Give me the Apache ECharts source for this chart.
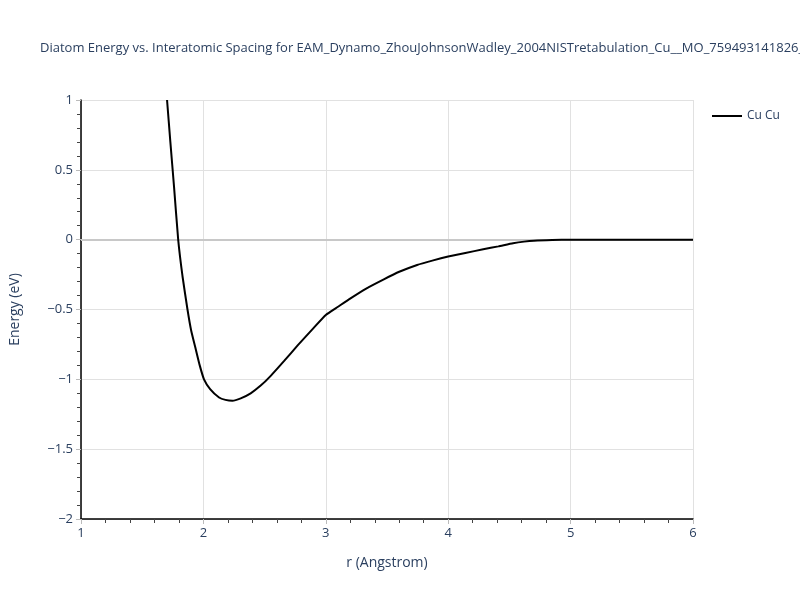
<!DOCTYPE html>
<html>
<head>
<meta charset="utf-8">
<script src="https://cdn.jsdelivr.net/npm/echarts@6/dist/echarts.min.js"></script>
<style>html,body{margin:0;padding:0;background:#fff;}#c{width:800px;height:600px;}</style>
</head>
<body>
<div id="c"></div>
<script>
const seriesName = 'Cu Cu';
const rValues = [1.703, 1.73, 1.76, 1.794, 1.829, 1.870, 1.90, 1.938, 1.97, 2.005, 2.055, 2.128, 2.18, 2.237, 2.305, 2.386, 2.468, 2.55, 2.658, 2.77, 2.89, 3.0, 3.1, 3.202, 3.33, 3.474, 3.6, 3.746, 3.87, 4.0, 4.14, 4.286, 4.41, 4.53, 4.62, 4.70, 4.85, 5.0, 5.5, 6.0];
const energyValues = [1.0, 0.7, 0.38, 0.0, -0.26, -0.5, -0.65, -0.786, -0.9, -1.0, -1.07, -1.13, -1.147, -1.153, -1.136, -1.1, -1.045, -0.975, -0.87, -0.757, -0.642, -0.539, -0.48, -0.42, -0.35, -0.284, -0.23, -0.181, -0.15, -0.121, -0.095, -0.069, -0.048, -0.026, -0.014, -0.007, -0.002, 0, 0, 0];
const xTicks = [1, 2, 3, 4, 5, 6];
const yTicks = [-2, -1.5, -1, -0.5, 0, 0.5, 1];
const titleText = 'Diatom Energy vs. Interatomic Spacing for EAM_Dynamo_ZhouJohnsonWadley_2004NISTretabulation_Cu__MO_759493141826_000';

const fontColor = '#2a3f5f';
const fam = '"Open Sans", Verdana, Arial, sans-serif';
const fmt = v => String(v).replace('-', '\u2212');

const chart = echarts.init(document.getElementById('c'));
chart.setOption({
  animation: false,
  backgroundColor: '#fff',
  title: {
    text: titleText,
    left: 35, top: 37,
    textStyle: {fontFamily: fam, fontSize: 13, fontWeight: 'normal', color: fontColor}
  },
  legend: {
    left: 707, top: 105, orient: 'vertical',
    itemWidth: 30, itemHeight: 10, itemGap: 8,
    textStyle: {fontFamily: fam, fontSize: 12, color: fontColor},
    data: [{name: seriesName, icon: 'path://M0,4 L30,4 L30,6 L0,6 Z'}]
  },
  grid: {left: 80, right: 107, top: 100, bottom: 81, containLabel: false},
  xAxis: {
    type: 'value', min: xTicks[0], max: xTicks[xTicks.length - 1], interval: 1,
    name: 'r (Angstrom)', nameLocation: 'middle', nameGap: 37,
    nameTextStyle: {fontFamily: fam, fontSize: 14, color: fontColor},
    axisLine: {show: true, onZero: false, lineStyle: {color: '#000', width: 1.5}},
    axisTick: {show: true, length: 5, lineStyle: {color: '#bbb'}},
    minorTick: {show: true, splitNumber: 5, length: 4, lineStyle: {color: '#444'}},
    axisLabel: {fontFamily: fam, fontSize: 13, color: fontColor, margin: 8, formatter: fmt},
    splitLine: {show: true, lineStyle: {color: '#e1e1e1', width: 1}}
  },
  yAxis: {
    type: 'value', min: yTicks[0], max: yTicks[yTicks.length - 1], interval: 0.5,
    name: 'Energy (eV)', nameLocation: 'middle', nameGap: 59,
    nameTextStyle: {fontFamily: fam, fontSize: 14, color: fontColor},
    axisLine: {show: true, onZero: false, lineStyle: {color: '#000', width: 1.5}},
    axisTick: {show: true, length: 5, lineStyle: {color: '#bbb'}},
    minorTick: {show: true, splitNumber: 5, length: 4, lineStyle: {color: '#444'}},
    axisLabel: {fontFamily: fam, fontSize: 13, color: fontColor, margin: 8, formatter: fmt},
    splitLine: {show: true, lineStyle: {color: '#e1e1e1', width: 1}}
  },
  series: [{
    name: seriesName,
    type: 'line',
    data: rValues.map((r, i) => [r, energyValues[i]]),
    symbol: 'none',
    smooth: 0.15,
    lineStyle: {color: '#000', width: 2},
    itemStyle: {color: '#000'},
    z: 5,
    markLine: {
      silent: true, symbol: 'none', label: {show: false},
      lineStyle: {color: '#c8c8c8', width: 2, type: 'solid'},
      data: [{yAxis: 0}],
      z: 1
    }
  }]
});
</script>
</body>
</html>
